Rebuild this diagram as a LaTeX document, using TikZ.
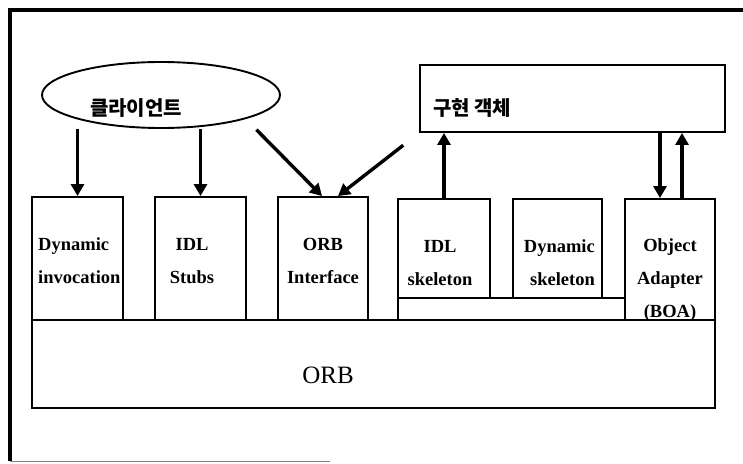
\documentclass[tikz,border=0pt]{standalone}
\usepackage{fontspec}
\setmainfont{Liberation Serif}
\newfontfamily\kor{Noto Sans CJK KR}
\usetikzlibrary{arrows.meta,shapes.geometric}

\begin{document}
\begin{tikzpicture}[x=1pt,y=-1pt,
  box/.style={draw,line width=1.9pt,inner sep=0pt},
  txt/.style={inner sep=0pt,font=\bfseries\fontsize{18.5}{33}\selectfont},
  arr/.style={line width=3.4pt,-{Triangle[length=12pt,width=13pt]}}]
\useasboundingbox (0,0) rectangle (743,463);
\draw[line width=4pt] (10,461) -- (10,10) -- (743,10);
\draw[line width=0.6pt,gray] (10,461) -- (330,461);

\node [ellipse,draw,line width=1.9pt,minimum width=238pt,minimum height=66pt] (cli) at (161,95) {};
\node [inner sep=0pt,font=\kor\bfseries\fontsize{20}{24}\selectfont] (cli-t) at (136,108) {클라이언트};
\node [box,minimum width=305pt,minimum height=67pt] (impl) at (572.5,98.5) {};
\node [inner sep=0pt,anchor=west,font=\kor\bfseries\fontsize{20}{24}\selectfont] (impl-t) at (433,108) {구현 객체};

\node [box,minimum width=683pt,minimum height=88pt] (orb) at (373.5,364) {};
\node [inner sep=0pt,font=\fontsize{25}{30}\selectfont] (orb-t) at (328,375) {ORB};
\node [box,minimum width=227pt,minimum height=22pt] (plat) at (511.5,309) {};

\node [box,minimum width=91pt,minimum height=123pt] (dyn) at (77.5,258.5) {};
\node [box,minimum width=91pt,minimum height=123pt] (stub) at (200.5,258.5) {};
\node [box,minimum width=90pt,minimum height=123pt] (orbif) at (323,258.5) {};
\node [box,minimum width=92pt,minimum height=99pt] (idlsk) at (444,248.5) {};
\node [box,minimum width=89pt,minimum height=99pt] (dynsk) at (557.5,248.5) {};
\node [box,minimum width=90pt,minimum height=121pt] (oa) at (670,259.5) {};

\node [txt,align=left,anchor=west] (dyn-t) at (38,261) {Dynamic\\invocation};
\node [txt,align=center] (stub-t) at (192,261) {IDL\\Stubs};
\node [txt,align=center] (orbif-t) at (323,261) {ORB\\Interface};
\node [txt,align=center] (idlsk-t) at (440,263) {IDL\\skeleton};
\node [txt,align=right,anchor=east] (dynsk-t) at (595,263) {Dynamic\\skeleton};
\node [txt,align=center] (oa-t) at (670,280) {Object\\Adapter\\(BOA)};

\draw[arr] (dyn.north |- cli.south) -- (dyn.north);
\draw[arr] (stub.north |- cli.south) -- (stub.north);
\draw[arr,shorten <=15pt] (cli.south east) -- ([xshift=-1pt]orbif.north);
\draw[arr,shorten <=20pt] (impl.south west) -- ([xshift=15pt]orbif.north);
\draw[arr] (idlsk.north) -- (idlsk.north |- impl.south);
\draw[arr] ([xshift=-10pt]oa.north |- impl.south) -- ([xshift=-10pt]oa.north);
\draw[arr] ([xshift=12pt]oa.north) -- ([xshift=12pt]oa.north |- impl.south);
\end{tikzpicture}
\end{document}
